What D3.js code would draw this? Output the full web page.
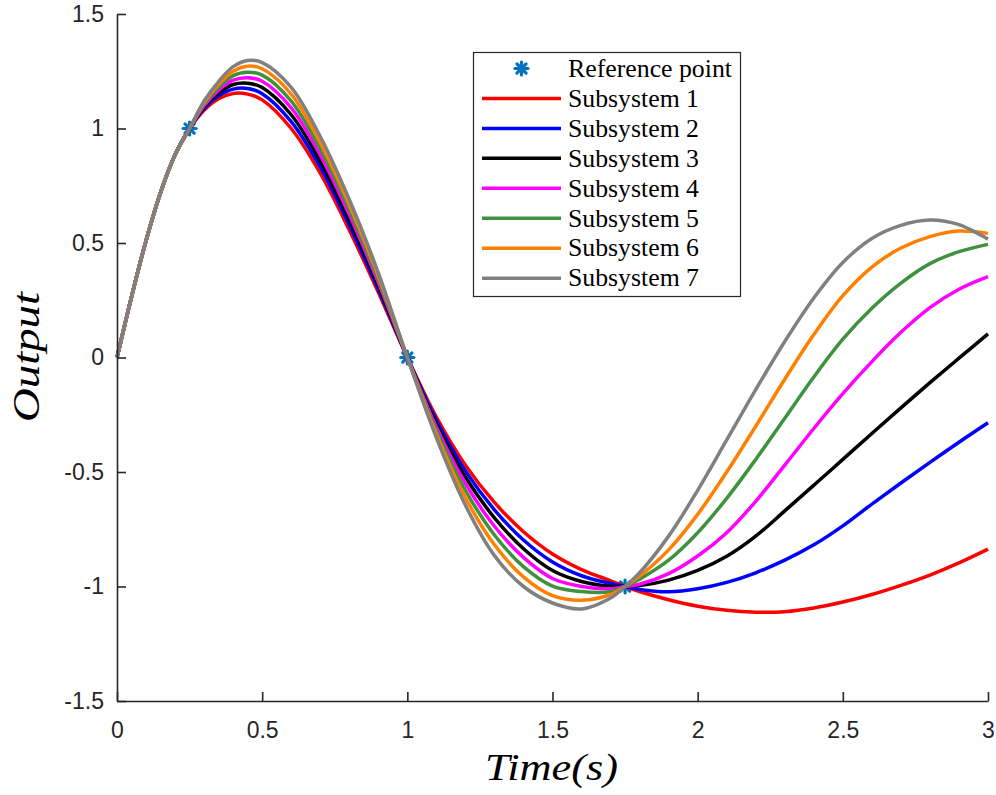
<!DOCTYPE html>
<html><head><meta charset="utf-8">
<script src="https://cdn.jsdelivr.net/npm/d3@7"></script>
<style>body{margin:0;background:#fff}svg{display:block}</style>
</head><body>
<svg id="chart" width="996" height="795"></svg>
<script>
const times = [0,0.05,0.1,0.15,0.2,0.25,0.3,0.35,0.4,0.45,0.5,0.6,0.7,0.8,0.9,1.0,1.1,1.2,1.3,1.4,1.5,1.6,1.7,1.75,1.8,1.9,2.0,2.1,2.2,2.3,2.4,2.5,2.6,2.7,2.8,2.9,3.0];
const seriesNames = ["Subsystem 1","Subsystem 2","Subsystem 3","Subsystem 4","Subsystem 5","Subsystem 6","Subsystem 7"];
const seriesColors = ["#ff0000","#0000ff","#000000","#ff00ff","#3f913f","#ff8000","#808080"];
const sub1 = [0,0.265,0.51,0.72,0.885,1.0, 1.08,1.13,1.153,1.150,1.125, 1.0,0.805,0.557,0.285,0, -0.26,-0.47,-0.633,-0.761,-0.858,-0.926,-0.975,-1.0, -1.022,-1.058,-1.086,-1.104,-1.112,-1.11,-1.094,-1.068,-1.035,-0.995,-0.95,-0.897,-0.837];
const sub2 = [0,0.265,0.51,0.72,0.885,1.0, 1.087,1.1425,1.172,1.175,1.152, 1.03,0.832,0.579,0.299,0, -0.275,-0.495,-0.665,-0.797,-0.893,-0.953,-0.987,-1.0, -1.013,-1.023,-1.01,-0.982,-0.94,-0.885,-0.818,-0.735,-0.64,-0.548,-0.458,-0.37,-0.285];
const sub3 = [0,0.265,0.51,0.72,0.885,1.0, 1.093,1.155,1.192,1.198,1.179, 1.06,0.858,0.601,0.313,0, -0.29,-0.522,-0.70,-0.835,-0.93,-0.978,-0.999,-1.0, -0.996,-0.972,-0.93,-0.868,-0.78,-0.67,-0.558,-0.445,-0.332,-0.22,-0.11,-0.003,0.103];
const sub4 = [0,0.265,0.51,0.72,0.885,1.0, 1.10,1.1675,1.211,1.222,1.206, 1.09,0.885,0.624,0.328,0, -0.305,-0.55,-0.737,-0.873,-0.965,-1.0,-1.01,-1.0, -0.99,-0.944,-0.867,-0.765,-0.628,-0.47,-0.31,-0.158,-0.018,0.11,0.218,0.298,0.353];
const sub5 = [0,0.265,0.51,0.72,0.885,1.0, 1.107,1.18,1.231,1.246,1.233, 1.12,0.912,0.646,0.342,0, -0.32,-0.58,-0.775,-0.913,-0.998,-1.022,-1.022,-1.0, -0.968,-0.885,-0.765,-0.615,-0.445,-0.265,-0.085,0.08,0.215,0.325,0.41,0.462,0.494];
const sub6 = [0,0.265,0.51,0.72,0.885,1.0, 1.113,1.1925,1.25,1.272,1.261, 1.15,0.938,0.668,0.356,0, -0.335,-0.612,-0.818,-0.958,-1.04,-1.06,-1.035,-1.0, -0.955,-0.84,-0.685,-0.5,-0.3,-0.095,0.1,0.27,0.395,0.478,0.528,0.552,0.542];
const sub7 = [0,0.265,0.51,0.72,0.885,1.0, 1.12,1.205,1.27,1.297,1.288, 1.18,0.965,0.69,0.37,0, -0.35,-0.645,-0.865,-1.0,-1.072,-1.098,-1.05,-1.0, -0.94,-0.78,-0.58,-0.36,-0.14,0.07,0.26,0.415,0.52,0.577,0.6,0.58,0.517];
const seriesValues = [sub1,sub2,sub3,sub4,sub5,sub6,sub7];
const refTimes = [0.25,1.0,1.75];
const refValues = [1,0,-1];
const xTicks = [0,0.5,1,1.5,2,2.5,3];
const yTicks = [-1.5,-1,-0.5,0,0.5,1,1.5];

const svg = d3.select("#chart");
const x = d3.scaleLinear().domain([0,3]).range([117,988]);
const y = d3.scaleLinear().domain([-1.5,1.5]).range([701,14]);
const axisColor = "#262626";

function star(g, cx, cy, r) {
  const s = g.append("g").attr("transform", `translate(${cx},${cy})`);
  for (let i = 0; i < 4; i++) {
    const a = i * Math.PI / 4;
    s.append("line").attr("x1", -r*Math.cos(a)).attr("y1", -r*Math.sin(a))
      .attr("x2", r*Math.cos(a)).attr("y2", r*Math.sin(a))
      .attr("stroke", "#0072bd").attr("stroke-width", 3.2).attr("stroke-linecap","round");
  }
  s.append("circle").attr("r", r*0.55).attr("fill","#0072bd");
}
const refG = svg.append("g");
refTimes.forEach((t,i) => star(refG, x(t), y(refValues[i]), 6.5));

const line = d3.line().x(d => x(d[0])).y(d => y(d[1])).curve(d3.curveCatmullRom.alpha(0.5));
seriesValues.forEach((vals, i) => {
  svg.append("path")
    .datum(times.map((t,j) => [t, vals[j]]))
    .attr("d", line)
    .attr("fill","none")
    .attr("stroke", seriesColors[i])
    .attr("stroke-width", 3.5)
    .attr("stroke-linejoin","round");
});

const fmt = d => String(d);
const xAxis = svg.append("g").attr("transform","translate(0,701)")
  .call(d3.axisBottom(x).tickValues(xTicks).tickFormat(fmt).tickSizeInner(-9).tickSizeOuter(0).tickPadding(21));
const yAxis = svg.append("g").attr("transform","translate(117,0)")
  .call(d3.axisLeft(y).tickValues(yTicks).tickFormat(fmt).tickSizeInner(-9).tickSizeOuter(0).tickPadding(13));
[xAxis, yAxis].forEach(a => {
  a.select(".domain").attr("stroke", axisColor).attr("stroke-width", 1.6);
  a.selectAll(".tick line").attr("stroke", axisColor).attr("stroke-width", 1.6);
  a.selectAll(".tick text").attr("fill", axisColor)
    .style("font-family", "'Liberation Sans', Arial, sans-serif").style("font-size", "23px");
});

svg.append("text").attr("x", 485).attr("y", 780)
  .attr("textLength", 133).attr("lengthAdjust", "spacingAndGlyphs")
  .style("font-family","'Liberation Serif', 'DejaVu Serif', serif").style("font-style","italic")
  .style("font-size","37px").attr("fill","#000").text("Time(s)");
svg.append("text").attr("transform","translate(39,422) rotate(-90)")
  .attr("textLength", 130).attr("lengthAdjust", "spacingAndGlyphs")
  .style("font-family","'Liberation Serif', 'DejaVu Serif', serif").style("font-style","italic")
  .style("font-size","37px").attr("fill","#000").text("Output");

const lg = svg.append("g");
lg.append("rect").attr("x",473.5).attr("y",52.5).attr("width",267).attr("height",244)
  .attr("fill","#fff").attr("stroke",axisColor).attr("stroke-width",1.2);
const rowY = i => 68.5 + i * 29.95;
star(lg, 521.5, rowY(0), 6.5);
const legendLabels = ["Reference point"].concat(seriesNames);
seriesNames.forEach((n,i) => {
  lg.append("line").attr("x1",482).attr("x2",561).attr("y1",rowY(i+1)).attr("y2",rowY(i+1))
    .attr("stroke",seriesColors[i]).attr("stroke-width",3.5);
});
legendLabels.forEach((n,i) => {
  lg.append("text").attr("x",568).attr("y",rowY(i)).attr("dy","0.33em")
    .attr("textLength", i === 0 ? 164 : 131).attr("lengthAdjust","spacingAndGlyphs")
    .style("font-family","'Liberation Serif', 'DejaVu Serif', serif").style("font-size","25px")
    .attr("fill","#000").text(n);
});
</script>
</body></html>
